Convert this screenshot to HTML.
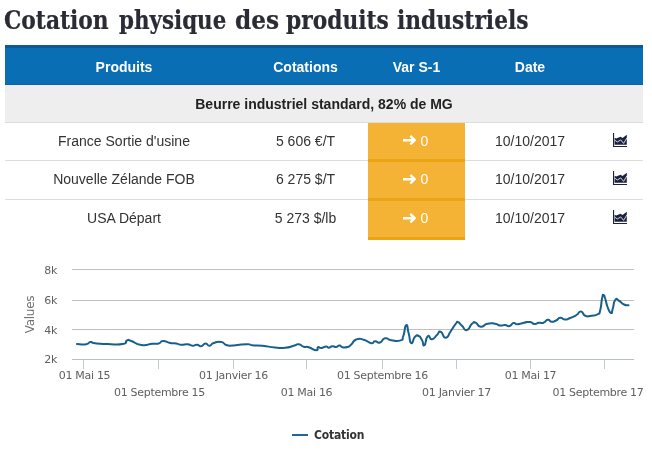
<!DOCTYPE html>
<html lang="fr">
<head>
<meta charset="utf-8">
<title>Cotation physique des produits industriels</title>
<style>
html,body{margin:0;padding:0;background:#fff;}
body{width:652px;height:452px;position:relative;overflow:hidden;font-family:"Liberation Sans",Arial,sans-serif;color:#333;font-size:14px;}
h1{position:absolute;left:0;top:0;width:652px;height:44px;margin:0;font-family:"DejaVu Serif Condensed","DejaVu Serif","Liberation Serif",serif;font-weight:bold;font-size:26px;line-height:normal;color:#2b2b36;white-space:nowrap;-webkit-text-stroke:0.2px #2b2b36;}
h1 span{position:absolute;top:5px;transform-origin:0 0;}
.tbl{position:absolute;left:5px;top:45px;width:638px;height:0;}
.hdr{position:absolute;left:0;top:0;width:638px;height:36px;line-height:39px;background:#0a6eb4;border-top:3px solid #0b5a93;border-bottom:1px solid #0a64a4;color:#fff;font-weight:bold;}
.grp{position:absolute;left:0;top:40px;width:638px;height:37px;line-height:39px;background:#eee;border-bottom:1px solid #ddd;font-weight:bold;color:#222;text-align:center;}
.row{position:absolute;left:0;width:638px;box-sizing:border-box;border-bottom:1px solid #ddd;}
.row.last{border-bottom:none;}
.c{position:absolute;top:0;height:100%;text-align:center;white-space:nowrap;}
.c1{left:0;width:238px;}
.c2{left:238px;width:125px;}
.c3{left:363px;width:97px;}
.c4{left:460px;width:130px;}
.c5{left:590px;width:48px;}
.row .c3{background:#f5b335;color:#fff;box-sizing:border-box;border-bottom:3px solid #eba414;height:39px;}
.arr{position:absolute;left:35.2px;top:11.6px;}
.z{position:absolute;left:52.5px;}
.ico{position:absolute;left:17.7px;top:10px;}
#chart{position:absolute;left:0;top:250px;}
</style>
</head>
<body>
<h1><span style="left:4.27px;transform:scaleX(.9306)">Cotation</span><span style="left:119.3px;transform:scaleX(.9147)">physique</span><span style="left:234.71px;transform:scaleX(.993)">des</span><span style="left:286.1px;transform:scaleX(.9309)">produits</span><span style="left:396.67px;transform:scaleX(.93)">industriels</span></h1>
<div class="tbl">
<div class="hdr"><div class="c c1">Produits</div><div class="c c2">Cotations</div><div class="c c3">Var S-1</div><div class="c c4">Date</div></div>
<div class="grp">Beurre industriel standard, 82% de MG</div>
</div>
<div class="tbl" style="top:0">
<div class="row" style="top:123px;height:38px;line-height:36px">
<div class="c c1">France Sortie d'usine</div><div class="c c2">5 606 €/T</div><div class="c c3" style="top:0px"><svg class="arr" width="13.3" height="10.3" viewBox="0 0 13.3 10.3"><path d="M8.15 0L13.3 5.15L8.15 10.3L6.5 8.65L8.75 6.4H0V3.9H8.75L6.5 1.65Z" fill="#fff"/></svg><span class="z" style="top:0px">0</span></div><div class="c c4">10/10/2017</div><div class="c c5"><svg class="ico" width="14" height="14" viewBox="0 0 14 14"><path d="M0 0h1.1v12.9H14V14H0z M1.6 11.8V4.8L3.2 5.4L5.6 4.6L7.6 3.7L9.5 5.1L13.8 1.7V11.8z" fill="#1b2240"/><path d="M1.6 7L4.3 9L7.7 6.9L10.6 10.4L13.8 5" stroke="#fff" stroke-width="0.8" fill="none"/></svg></div>
</div>
<div class="row" style="top:161px;height:39px;line-height:37px">
<div class="c c1">Nouvelle Zélande FOB</div><div class="c c2">6 275 $/T</div><div class="c c3" style="top:1px"><svg class="arr" width="13.3" height="10.3" viewBox="0 0 13.3 10.3"><path d="M8.15 0L13.3 5.15L8.15 10.3L6.5 8.65L8.75 6.4H0V3.9H8.75L6.5 1.65Z" fill="#fff"/></svg><span class="z" style="top:-1px">0</span></div><div class="c c4">10/10/2017</div><div class="c c5"><svg class="ico" width="14" height="14" viewBox="0 0 14 14"><path d="M0 0h1.1v12.9H14V14H0z M1.6 11.8V4.8L3.2 5.4L5.6 4.6L7.6 3.7L9.5 5.1L13.8 1.7V11.8z" fill="#1b2240"/><path d="M1.6 7L4.3 9L7.7 6.9L10.6 10.4L13.8 5" stroke="#fff" stroke-width="0.8" fill="none"/></svg></div>
</div>
<div class="row last" style="top:200px;height:39px;line-height:36px">
<div class="c c1">USA Départ</div><div class="c c2">5 273 $/lb</div><div class="c c3" style="top:1px"><svg class="arr" width="13.3" height="10.3" viewBox="0 0 13.3 10.3"><path d="M8.15 0L13.3 5.15L8.15 10.3L6.5 8.65L8.75 6.4H0V3.9H8.75L6.5 1.65Z" fill="#fff"/></svg><span class="z" style="top:-1px">0</span></div><div class="c c4">10/10/2017</div><div class="c c5"><svg class="ico" width="14" height="14" viewBox="0 0 14 14"><path d="M0 0h1.1v12.9H14V14H0z M1.6 11.8V4.8L3.2 5.4L5.6 4.6L7.6 3.7L9.5 5.1L13.8 1.7V11.8z" fill="#1b2240"/><path d="M1.6 7L4.3 9L7.7 6.9L10.6 10.4L13.8 5" stroke="#fff" stroke-width="0.8" fill="none"/></svg></div>
</div>
</div>
<svg id="chart" width="652" height="202" viewBox="0 250 652 202" style="font-family:'DejaVu Sans','Liberation Sans',sans-serif;font-size:11px;letter-spacing:-0.3px">
<path stroke="#c0c0c0" stroke-width="1" fill="none" d="M72 269.5H634M72 300.5H634M72 329.5H634"/>
<path stroke="#b6bec8" stroke-width="1" fill="none" d="M72 359.5H634"/>
<path stroke="#c2c8d0" stroke-width="1" fill="none" d="M83.5 359.5v9.5M158.5 359.5v9.5M233.5 359.5v9.5M306.5 359.5v9.5M382.5 359.5v9.5M456.5 359.5v9.5M530.5 359.5v9.5M604.5 359.5v9.5"/>
<g fill="#606060" text-anchor="end">
<text x="57" y="274">8k</text><text x="57" y="304">6k</text><text x="57" y="333.5">4k</text><text x="57" y="363">2k</text>
</g>
<text x="0" y="0" transform="translate(33.5,314.5) rotate(-90)" text-anchor="middle" fill="#707070" style="font-size:12px;letter-spacing:-0.3px">Values</text>
<g fill="#606060" text-anchor="middle">
<text x="84.5" y="379">01 Mai 15</text>
<text x="159.5" y="396">01 Septembre 15</text>
<text x="233.5" y="379">01 Janvier 16</text>
<text x="306.5" y="396">01 Mai 16</text>
<text x="382.5" y="379">01 Septembre 16</text>
<text x="456.5" y="396">01 Janvier 17</text>
<text x="530.5" y="379">01 Mai 17</text>
<text x="598" y="396">01 Septembre 17</text>
</g>
<path fill="none" stroke="#17608c" stroke-width="2" stroke-linejoin="round" stroke-linecap="round" d="M77 344C80.08 344.08 81.75 344.92 86.25 344.25C90.75 343.58 87.58 342.33 90.5 342C93.42 341.67 89.33 342.58 95 343.25C100.67 343.92 98.33 343.75 107.5 344C116.67 344.25 116.00 345.17 122.5 344C129.00 342.83 124.08 341.50 127 340.5C129.92 339.50 126.50 339.50 131.25 341C136.00 342.50 134.17 344.08 141.25 345C148.33 345.92 146.67 344.25 152.5 343.75C158.33 343.25 155.25 344.42 158.75 343.5C162.25 342.58 159.25 341.17 163 341C166.75 340.83 165.58 342.17 170 343C174.42 343.83 172.50 342.92 176.25 343.5C180.00 344.08 177.50 344.50 181.25 344.75C185.00 345.00 183.75 343.92 187.5 344.25C191.25 344.58 189.33 345.58 192.5 345.75C195.67 345.92 194.08 344.58 197 344.75C199.92 344.92 198.42 346.67 201.25 346.25C204.08 345.83 202.75 343.67 205.5 343.5C208.25 343.33 206.75 345.92 209.5 345.75C212.25 345.58 209.83 344.25 213.75 343C217.67 341.75 217.08 341.33 221.25 342C225.42 342.67 222.50 343.83 226.25 345C230.00 346.17 228.75 345.50 232.5 345.5C236.25 345.50 232.50 345.42 237.5 345C242.50 344.58 242.50 344.17 247.5 344.25C252.50 344.33 247.50 344.75 252.5 345.25C257.50 345.75 255.00 345.00 262.5 345.75C270.00 346.50 267.50 346.83 275 347.5C282.50 348.17 278.75 348.33 285 347.75C291.25 347.17 289.17 346.92 293.75 345.75C298.33 344.58 295.42 343.92 298.75 344.25C302.08 344.58 300.42 345.75 303.75 346.75C307.08 347.75 304.58 346.08 308.75 347.25C312.92 348.42 313.17 350.25 316.25 350.25C319.33 350.25 316.33 348.00 318 347.25C319.67 346.50 318.50 348.25 321.25 348C324.00 347.75 323.75 346.58 326.25 346.5C328.75 346.42 326.67 347.83 328.75 347.75C330.83 347.67 330.00 346.50 332.5 346.25C335.00 346.00 333.92 347.25 336.25 347C338.58 346.75 337.42 345.42 339.5 345.5C341.58 345.58 339.83 346.75 342.5 347.25C345.17 347.75 344.58 347.92 347.5 347C350.42 346.08 348.33 347.00 351.25 344.5C354.17 342.00 352.08 341.08 356.25 339.5C360.42 337.92 358.75 338.50 363.75 339.75C368.75 341.00 367.50 342.75 371.25 343.25C375.00 343.75 372.08 341.50 375 341.25C377.92 341.00 376.67 343.50 380 342.5C383.33 341.50 381.25 339.00 385 338.25C388.75 337.50 386.08 339.53 391.25 340.25C396.42 340.97 396.48 341.82 400.5 340.4C404.52 338.98 401.38 341.05 403.3 336C405.22 330.95 404.43 326.00 406.25 325.25C408.07 324.50 407.08 327.83 408.75 333.75C410.42 339.67 409.17 342.00 411.25 343C413.33 344.00 412.50 339.08 415 336.75C417.50 334.42 416.43 334.92 418.75 336C421.07 337.08 420.05 336.92 421.95 340C423.85 343.08 422.53 346.50 424.45 345.25C426.37 344.00 425.20 338.25 427.7 336.25C430.20 334.25 428.87 339.67 431.95 339.25C435.03 338.83 434.03 337.50 436.95 335C439.87 332.50 437.78 330.83 440.7 331.75C443.62 332.67 442.37 337.92 445.7 337.75C449.03 337.58 447.37 335.90 450.7 331.25C454.03 326.60 453.20 326.78 455.7 323.8C458.20 320.82 456.12 321.63 458.2 322.3C460.28 322.97 459.03 323.22 461.95 325.8C464.87 328.38 463.62 330.72 466.95 330.05C470.28 329.38 469.03 326.22 471.95 323.8C474.87 321.38 472.78 321.82 475.7 322.8C478.62 323.78 476.77 326.43 480.7 326.75C484.63 327.07 482.73 324.75 487.5 323.75C492.27 322.75 490.83 323.17 495 323.75C499.17 324.33 496.67 325.08 500 325.5C503.33 325.92 501.83 324.83 505 325C508.17 325.17 506.67 326.67 509.5 326C512.33 325.33 510.83 323.58 513.5 323C516.17 322.42 514.00 324.33 517.5 324.25C521.00 324.17 519.83 323.50 524 322.75C528.17 322.00 526.50 321.58 530 322C533.50 322.42 531.50 323.75 534.5 324C537.50 324.25 536.00 323.17 539 322.75C542.00 322.33 540.58 323.75 543.5 322.75C546.42 321.75 545.08 320.08 547.75 319.75C550.42 319.42 548.75 321.50 551.5 321.75C554.25 322.00 553.08 321.83 556 320.5C558.92 319.17 557.33 318.08 560.25 317.75C563.17 317.42 561.42 319.42 564.75 319.5C568.08 319.58 566.33 319.50 570.25 318C574.17 316.50 572.92 317.17 576.5 315C580.08 312.83 578.08 311.25 581 311.5C583.92 311.75 581.75 314.33 585.25 315.75C588.75 317.17 587.33 316.25 591.5 315.75C595.67 315.25 594.83 316.17 597.75 314.25C600.67 312.33 598.83 315.17 600.25 310C601.67 304.83 600.92 303.75 602 298.75C603.08 293.75 602.42 295.00 603.5 295C604.58 295.00 603.83 294.58 605.25 298.75C606.67 302.92 605.83 302.75 607.75 307.5C609.67 312.25 609.33 312.58 611 313C612.67 313.42 611.33 313.08 612.75 308.75C614.17 304.42 613.17 302.67 615.25 300C617.33 297.33 616.08 299.25 619 300.75C621.92 302.25 620.83 303.00 624 304.5C627.17 306.00 627.00 305.00 628.5 305.25"/>
<path d="M292 435H308" stroke="#1a6a9c" stroke-width="2" fill="none"/>
<text x="314" y="439" fill="#333" style="font-family:'DejaVu Sans Condensed','DejaVu Sans',sans-serif;font-weight:bold;font-size:12px;letter-spacing:-0.2px">Cotation</text>
</svg>
</body>
</html>
